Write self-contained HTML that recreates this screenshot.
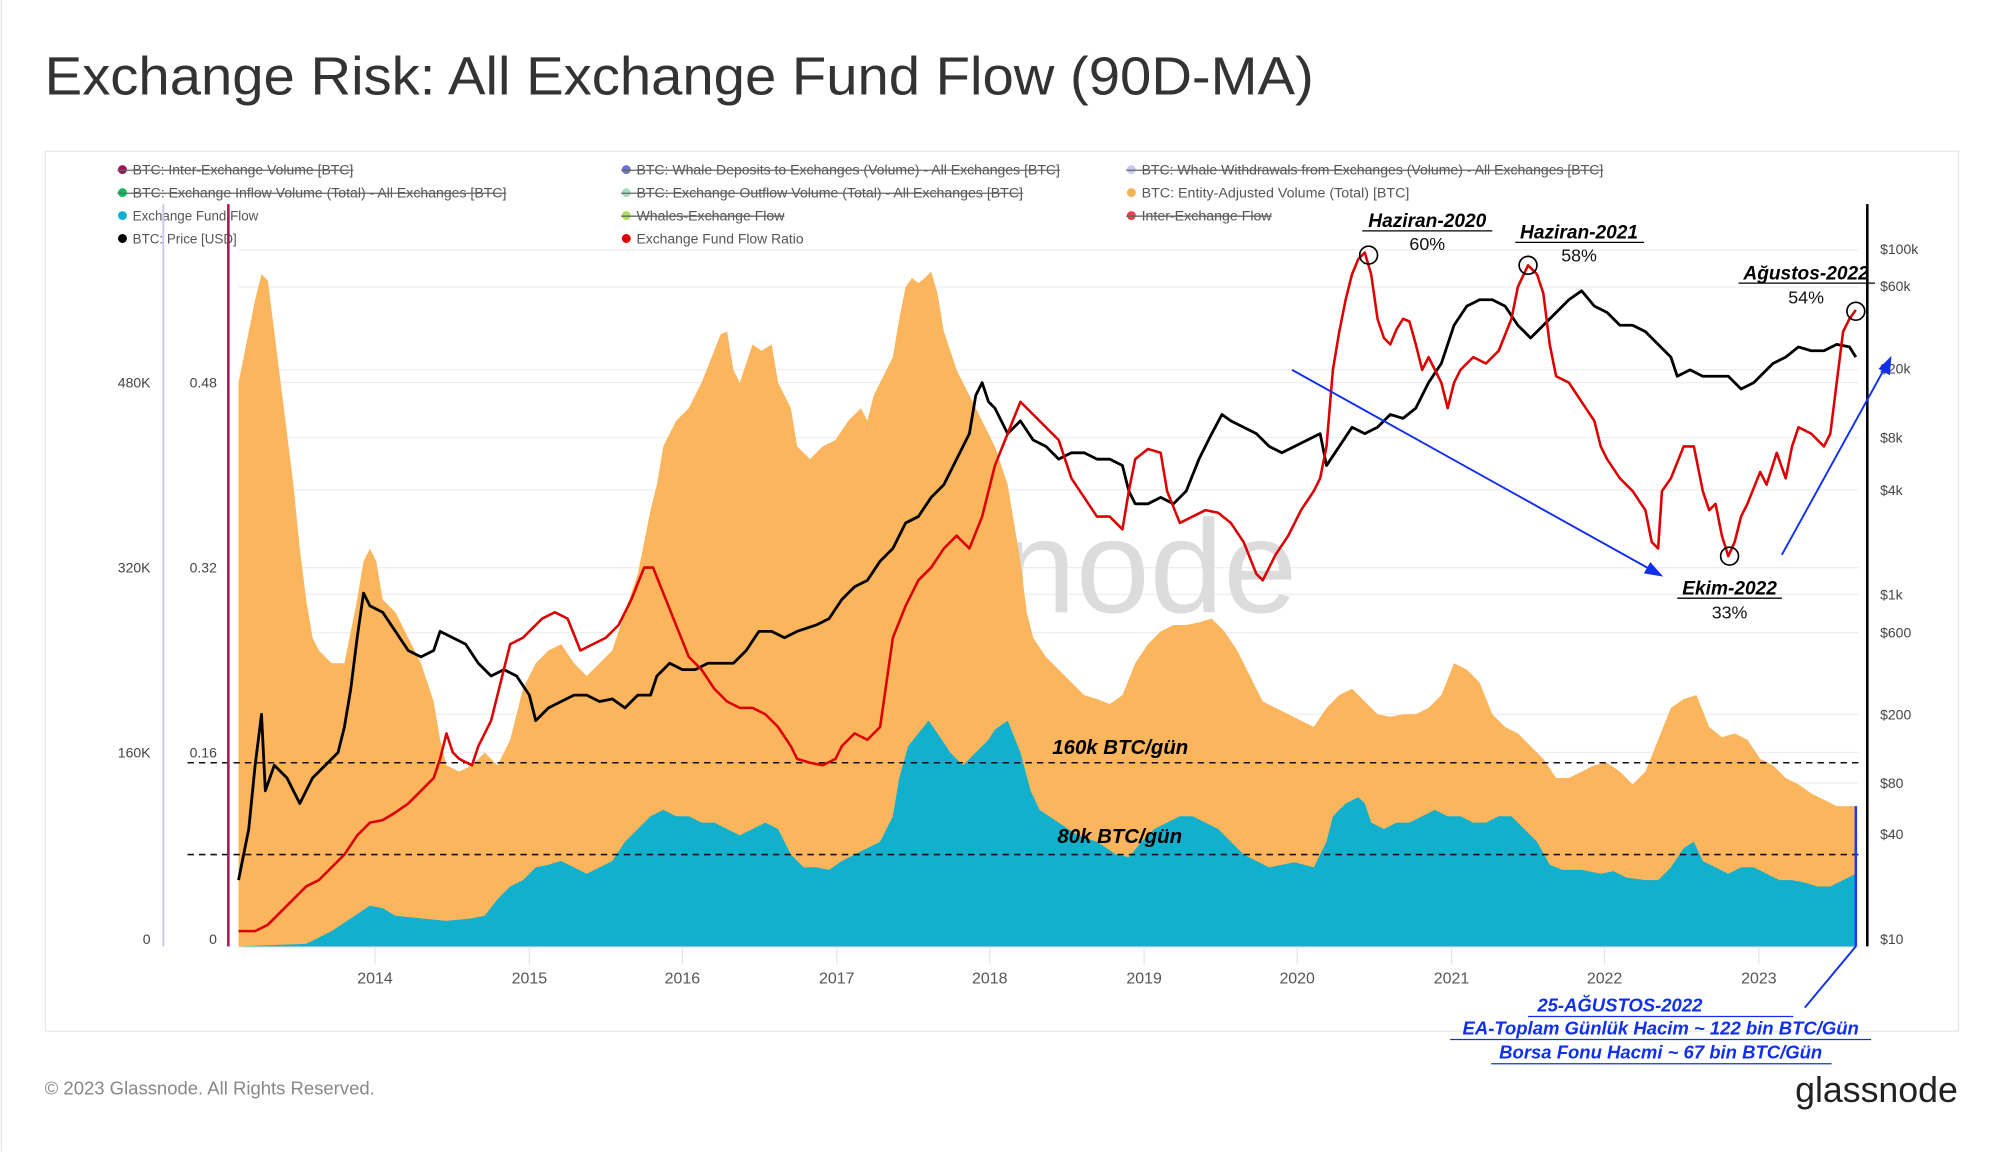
<!DOCTYPE html>
<html><head><meta charset="utf-8"><style>
html,body{margin:0;padding:0;background:#fff;}
svg{display:block;}
text{font-family:"Liberation Sans",sans-serif;}
</style></head><body>
<svg width="2000" height="1152" viewBox="0 0 1568 903.2" xmlns="http://www.w3.org/2000/svg">
<rect x="0" y="0" width="1568" height="903.2" fill="#fff"/>
<rect x="0.5" y="0" width="1" height="903" fill="#e6e6e6"/>
<text x="35" y="74" font-size="42" fill="#333" textLength="995" lengthAdjust="spacingAndGlyphs">Exchange Risk: All Exchange Fund Flow (90D-MA)</text>
<rect x="35.5" y="118.5" width="1500" height="690" fill="#fff" stroke="#e8e8e8"/>
<!-- legend -->
<g font-size="10.5" fill="#555">
<circle cx="96" cy="133" r="3.5" fill="#a0105a"/><text x="104" y="137" textLength="173" lengthAdjust="spacingAndGlyphs">BTC: Inter-Exchange Volume [BTC]</text><line x1="92" y1="133.5" x2="277" y2="133.5" stroke="#666"/>
<circle cx="96" cy="151" r="3.5" fill="#1bb55c"/><text x="104" y="155" textLength="293" lengthAdjust="spacingAndGlyphs">BTC: Exchange Inflow Volume (Total) - All Exchanges [BTC]</text><line x1="92" y1="151.5" x2="397" y2="151.5" stroke="#666"/>
<circle cx="96" cy="169" r="3.5" fill="#13afd0"/><text x="104" y="173">Exchange Fund Flow</text>
<circle cx="96" cy="187" r="3.5" fill="#000"/><text x="104" y="191">BTC: Price [USD]</text>
<circle cx="491" cy="133" r="3.5" fill="#7070d8"/><text x="499" y="137" textLength="332" lengthAdjust="spacingAndGlyphs">BTC: Whale Deposits to Exchanges (Volume) - All Exchanges [BTC]</text><line x1="487" y1="133.5" x2="831" y2="133.5" stroke="#666"/>
<circle cx="491" cy="151" r="3.5" fill="#a0e0c0"/><text x="499" y="155" textLength="303" lengthAdjust="spacingAndGlyphs">BTC: Exchange Outflow Volume (Total) - All Exchanges [BTC]</text><line x1="487" y1="151.5" x2="802" y2="151.5" stroke="#666"/>
<circle cx="491" cy="169" r="3.5" fill="#a8e060"/><text x="499" y="173" textLength="116" lengthAdjust="spacingAndGlyphs">Whales-Exchange Flow</text><line x1="487" y1="169.5" x2="615" y2="169.5" stroke="#666"/>
<circle cx="491" cy="187" r="3.5" fill="#d00"/><text x="499" y="191" textLength="131" lengthAdjust="spacingAndGlyphs">Exchange Fund Flow Ratio</text>
<circle cx="887" cy="133" r="3.5" fill="#c8c8f0"/><text x="895" y="137" textLength="362" lengthAdjust="spacingAndGlyphs">BTC: Whale Withdrawals from Exchanges (Volume) - All Exchanges [BTC]</text><line x1="883" y1="133.5" x2="1257" y2="133.5" stroke="#666"/>
<circle cx="887" cy="151" r="3.5" fill="#f5b050"/><text x="895" y="155" textLength="210" lengthAdjust="spacingAndGlyphs">BTC: Entity-Adjusted Volume (Total) [BTC]</text>
<circle cx="887" cy="169" r="3.5" fill="#e84050"/><text x="895" y="173" textLength="102" lengthAdjust="spacingAndGlyphs">Inter-Exchange Flow</text><line x1="883" y1="169.5" x2="997" y2="169.5" stroke="#666"/>
</g>
<!-- gridlines -->
<g stroke="#eeeeee" stroke-width="1">
<line x1="187" y1="300" x2="1457" y2="300"/><line x1="187" y1="445" x2="1457" y2="445"/><line x1="187" y1="590" x2="1457" y2="590"/>
<line x1="187" y1="196" x2="1457" y2="196"/><line x1="187" y1="225" x2="1457" y2="225"/><line x1="187" y1="290" x2="1457" y2="290"/>
<line x1="187" y1="343" x2="1457" y2="343"/><line x1="187" y1="384" x2="1457" y2="384"/><line x1="187" y1="466" x2="1457" y2="466"/>
<line x1="187" y1="496" x2="1457" y2="496"/><line x1="187" y1="560" x2="1457" y2="560"/><line x1="187" y1="614" x2="1457" y2="614"/>
<line x1="187" y1="654" x2="1457" y2="654"/>
</g>
<line x1="187" y1="742.5" x2="1457" y2="742.5" stroke="#ddd"/>
<g stroke="#e6e6e6"><line x1="294" y1="742" x2="294" y2="756"/><line x1="415" y1="742" x2="415" y2="756"/><line x1="535" y1="742" x2="535" y2="756"/><line x1="656" y1="742" x2="656" y2="756"/><line x1="776" y1="742" x2="776" y2="756"/><line x1="897" y1="742" x2="897" y2="756"/><line x1="1017" y1="742" x2="1017" y2="756"/><line x1="1138" y1="742" x2="1138" y2="756"/><line x1="1258" y1="742" x2="1258" y2="756"/><line x1="1379" y1="742" x2="1379" y2="756"/></g>
<!-- watermark -->
<text x="1017" y="480" font-size="104" fill="#dcdcdc" text-anchor="end">glassnode</text>
<!-- orange area -->
<polygon fill="#fbb55c" points="187,742 187,300 195,260 200,235 205,215 210,220 215,260 220,300 225,340 230,380 235,430 240,470 245,500 250,510 260,520 270,520 280,470 285,440 290,430 295,440 300,470 310,480 320,500 330,520 340,550 345,580 350,600 360,605 370,600 380,590 390,600 400,580 410,540 420,520 430,510 440,505 450,520 460,530 470,520 480,510 490,480 500,450 510,400 515,380 520,350 530,330 540,320 550,300 558,280 565,262 570,260 575,290 580,300 590,270 597,275 605,270 610,300 620,320 625,350 635,360 645,350 655,345 665,330 675,320 680,330 685,310 690,300 700,280 705,250 710,225 715,218 720,222 725,218 730,213 735,230 740,260 750,290 760,310 770,330 780,350 790,380 800,440 805,480 810,500 820,515 830,525 840,535 850,545 860,548 870,552 880,545 890,520 900,505 910,495 920,490 930,490 940,488 950,485 960,495 970,510 980,530 990,550 1000,555 1010,560 1020,565 1030,570 1040,555 1050,545 1060,540 1070,550 1080,560 1090,562 1100,560 1110,560 1120,555 1130,545 1140,520 1150,525 1160,535 1170,560 1180,570 1190,575 1200,585 1210,595 1220,610 1230,610 1240,605 1250,600 1260,598 1270,605 1280,615 1290,605 1300,580 1310,555 1320,548 1330,545 1340,570 1350,578 1360,575 1370,580 1380,595 1390,600 1400,610 1410,615 1420,622 1430,627 1440,632 1455,632 1455,742"/>
<!-- blue area -->
<polygon fill="#12b0cc" points="187,742 240,740 260,730 275,720 290,710 300,712 310,718 330,720 350,722 370,720 380,718 390,705 400,695 410,690 420,680 430,678 440,675 450,680 460,685 470,680 480,675 490,660 500,650 510,640 520,635 530,640 540,640 550,645 560,645 570,650 580,655 590,650 600,645 610,650 620,670 630,680 640,680 650,682 660,675 670,670 680,665 690,660 700,640 705,610 712,585 720,575 728,565 735,575 745,590 755,600 765,590 775,580 780,572 790,565 800,590 808,620 815,635 830,645 845,655 860,660 875,670 885,672 895,660 905,650 915,645 925,640 935,640 945,645 955,650 965,660 975,670 985,675 995,680 1005,678 1015,676 1030,680 1040,660 1045,640 1055,630 1065,625 1070,630 1075,645 1085,650 1095,645 1105,645 1115,640 1125,635 1135,640 1145,640 1155,645 1165,645 1175,640 1185,640 1195,650 1205,660 1215,678 1225,682 1240,682 1255,685 1265,683 1275,688 1290,690 1300,690 1310,680 1320,665 1328,660 1335,675 1345,680 1355,685 1365,680 1375,680 1385,685 1395,690 1405,690 1415,692 1425,695 1435,695 1445,690 1455,685 1455,742"/>
<!-- dashed lines -->
<line x1="147" y1="598" x2="1457" y2="598" stroke="#111" stroke-width="1.2" stroke-dasharray="5,4"/>
<line x1="147" y1="670" x2="1457" y2="670" stroke="#111" stroke-width="1.2" stroke-dasharray="5,4"/>
<!-- price -->
<polyline fill="none" stroke="#000" stroke-width="2.2" stroke-linejoin="round" points="187,690 195,650 200,600 205,560 208,620 215,600 225,610 235,630 245,610 255,600 265,590 270,570 275,540 280,500 285,465 290,475 300,480 310,495 320,510 330,515 340,510 345,495 355,500 365,505 375,520 385,530 395,525 405,530 415,545 420,565 430,555 440,550 450,545 460,545 470,550 480,548 490,555 500,545 510,545 515,530 525,520 535,525 545,525 555,520 565,520 575,520 585,510 595,495 605,495 615,500 625,495 640,490 650,485 660,470 670,460 680,455 690,440 700,430 710,410 720,405 730,390 740,380 750,360 760,340 765,310 770,300 775,315 780,320 790,340 800,330 810,345 820,350 830,360 840,355 850,355 860,360 870,360 880,365 885,385 890,395 900,395 910,390 920,395 930,385 940,360 950,340 958,325 965,330 975,335 985,340 995,350 1005,355 1015,350 1025,345 1035,340 1040,365 1050,350 1060,335 1070,340 1080,335 1090,325 1100,328 1110,320 1120,300 1130,285 1140,255 1150,240 1160,235 1170,235 1180,240 1190,255 1200,265 1210,255 1220,245 1230,235 1240,228 1250,240 1260,245 1270,255 1280,255 1290,260 1300,270 1310,280 1315,295 1325,290 1335,295 1345,295 1355,295 1365,305 1375,300 1385,290 1390,285 1400,280 1410,272 1420,275 1430,275 1440,270 1450,272 1455,280"/>
<!-- ratio -->
<polyline fill="none" stroke="#dd0000" stroke-width="2" stroke-linejoin="round" points="187,730 200,730 210,725 220,715 230,705 240,695 250,690 260,680 270,670 280,655 290,645 300,643 310,637 320,630 330,620 340,610 345,595 350,575 355,590 360,595 370,600 375,585 385,565 395,525 400,505 410,500 420,490 425,485 435,480 445,485 455,510 465,505 475,500 485,490 495,470 505,445 512,445 520,465 530,490 540,515 550,525 560,540 570,550 580,555 590,555 600,560 610,570 620,585 625,595 635,598 645,600 655,595 660,585 670,575 680,580 690,570 700,500 710,475 720,455 730,445 740,430 750,420 760,430 770,405 780,365 790,340 800,315 810,325 820,335 830,345 840,375 850,390 860,405 870,405 880,415 885,385 890,360 900,352 910,355 915,385 925,410 935,405 945,400 955,402 965,410 975,425 985,450 990,455 1000,435 1010,420 1020,400 1030,385 1035,375 1040,350 1045,290 1050,260 1055,235 1060,215 1065,203 1070,198 1075,215 1080,250 1085,265 1090,270 1095,258 1100,250 1105,252 1110,270 1115,290 1120,280 1130,300 1135,320 1140,300 1145,290 1155,280 1165,285 1175,275 1185,250 1190,225 1198,208 1205,215 1210,230 1215,270 1220,295 1230,300 1240,315 1250,330 1255,350 1260,360 1270,375 1280,385 1290,400 1295,425 1300,430 1303,385 1310,375 1320,350 1328,350 1335,385 1340,400 1345,395 1350,420 1355,436 1360,425 1365,405 1370,395 1380,370 1385,380 1393,355 1400,375 1405,350 1410,335 1420,340 1430,350 1435,340 1440,300 1445,260 1450,250 1455,243"/>
<!-- axes lines -->
<line x1="128" y1="160" x2="128" y2="742" stroke="#c8c8f0" stroke-width="1.5"/>
<line x1="179" y1="160" x2="179" y2="742" stroke="#b0105e" stroke-width="2"/>
<line x1="1464" y1="160" x2="1464" y2="742" stroke="#000" stroke-width="2"/>
<line x1="1455" y1="632" x2="1455" y2="742" stroke="#1a3aff" stroke-width="2"/>
<!-- axis labels -->
<g font-size="11" fill="#444">
<text x="118" y="304" text-anchor="end">480K</text><text x="118" y="449" text-anchor="end">320K</text><text x="118" y="594" text-anchor="end">160K</text><text x="118" y="740" text-anchor="end">0</text>
<text x="170" y="304" text-anchor="end">0.48</text><text x="170" y="449" text-anchor="end">0.32</text><text x="170" y="594" text-anchor="end">0.16</text><text x="170" y="740" text-anchor="end">0</text>
<text x="1474" y="199">$100k</text><text x="1474" y="228">$60k</text><text x="1474" y="293">$20k</text><text x="1474" y="347">$8k</text><text x="1474" y="388">$4k</text><text x="1474" y="470">$1k</text><text x="1474" y="500">$600</text><text x="1474" y="564">$200</text><text x="1474" y="618">$80</text><text x="1474" y="658">$40</text><text x="1474" y="740">$10</text>
</g>
<g font-size="12.5" fill="#555" text-anchor="middle">
<text x="294" y="771">2014</text><text x="415" y="771">2015</text><text x="535" y="771">2016</text><text x="656" y="771">2017</text><text x="776" y="771">2018</text><text x="897" y="771">2019</text><text x="1017" y="771">2020</text><text x="1138" y="771">2021</text><text x="1258" y="771">2022</text><text x="1379" y="771">2023</text>
</g>
<!-- annotations -->
<g font-size="16" font-weight="bold" font-style="italic" fill="#000">
<text x="825" y="591">160k BTC/gün</text>
<text x="829" y="661">80k BTC/gün</text>
</g>
<g font-size="15" font-weight="bold" font-style="italic" fill="#000" text-anchor="middle">
<text x="1119" y="178">Haziran-2020</text><line x1="1068" y1="181" x2="1170" y2="181" stroke="#000"/>
<text x="1238" y="187">Haziran-2021</text><line x1="1188" y1="190" x2="1289" y2="190" stroke="#000"/>
<text x="1416" y="219">Ağustos-2022</text><line x1="1363" y1="222" x2="1470" y2="222" stroke="#000"/>
<text x="1356" y="466">Ekim-2022</text><line x1="1315" y1="469" x2="1397" y2="469" stroke="#000"/>
</g>
<g font-size="14" fill="#111" text-anchor="middle">
<text x="1119" y="196">60%</text><text x="1238" y="205">58%</text><text x="1416" y="238">54%</text><text x="1356" y="485">33%</text>
</g>
<g fill="none" stroke="#000" stroke-width="1.3">
<circle cx="1073" cy="200" r="7"/><circle cx="1198" cy="208" r="7"/><circle cx="1356" cy="436" r="7"/><circle cx="1455" cy="244" r="7"/>
</g>
<g stroke="#1030ee" stroke-width="1.5" fill="#1030ee">
<line x1="1013" y1="290" x2="1295" y2="447"/><polygon points="1302,451 1290,449 1294,442"/>
<line x1="1397" y1="435" x2="1478" y2="288"/><polygon points="1482,281 1481,293 1474,289"/>
<line x1="1415" y1="790" x2="1455" y2="742"/>
</g>
<g font-size="14.5" font-weight="bold" font-style="italic" fill="#1030ee" text-anchor="middle">
<text x="1270" y="793">25-AĞUSTOS-2022</text><line x1="1198" y1="797" x2="1406" y2="797" stroke="#1030ee"/>
<text x="1302" y="811">EA-Toplam Günlük Hacim ~ 122 bin BTC/Gün</text><line x1="1137" y1="815" x2="1467" y2="815" stroke="#1030ee"/>
<text x="1302" y="830">Borsa Fonu Hacmi ~ 67 bin BTC/Gün</text><line x1="1169" y1="834" x2="1436" y2="834" stroke="#1030ee"/>
</g>
<text x="35" y="858" font-size="14.5" fill="#888">© 2023 Glassnode. All Rights Reserved.</text>
<text x="1535" y="864" font-size="28" fill="#222" text-anchor="end">glassnode</text>
</svg>
</body></html>
